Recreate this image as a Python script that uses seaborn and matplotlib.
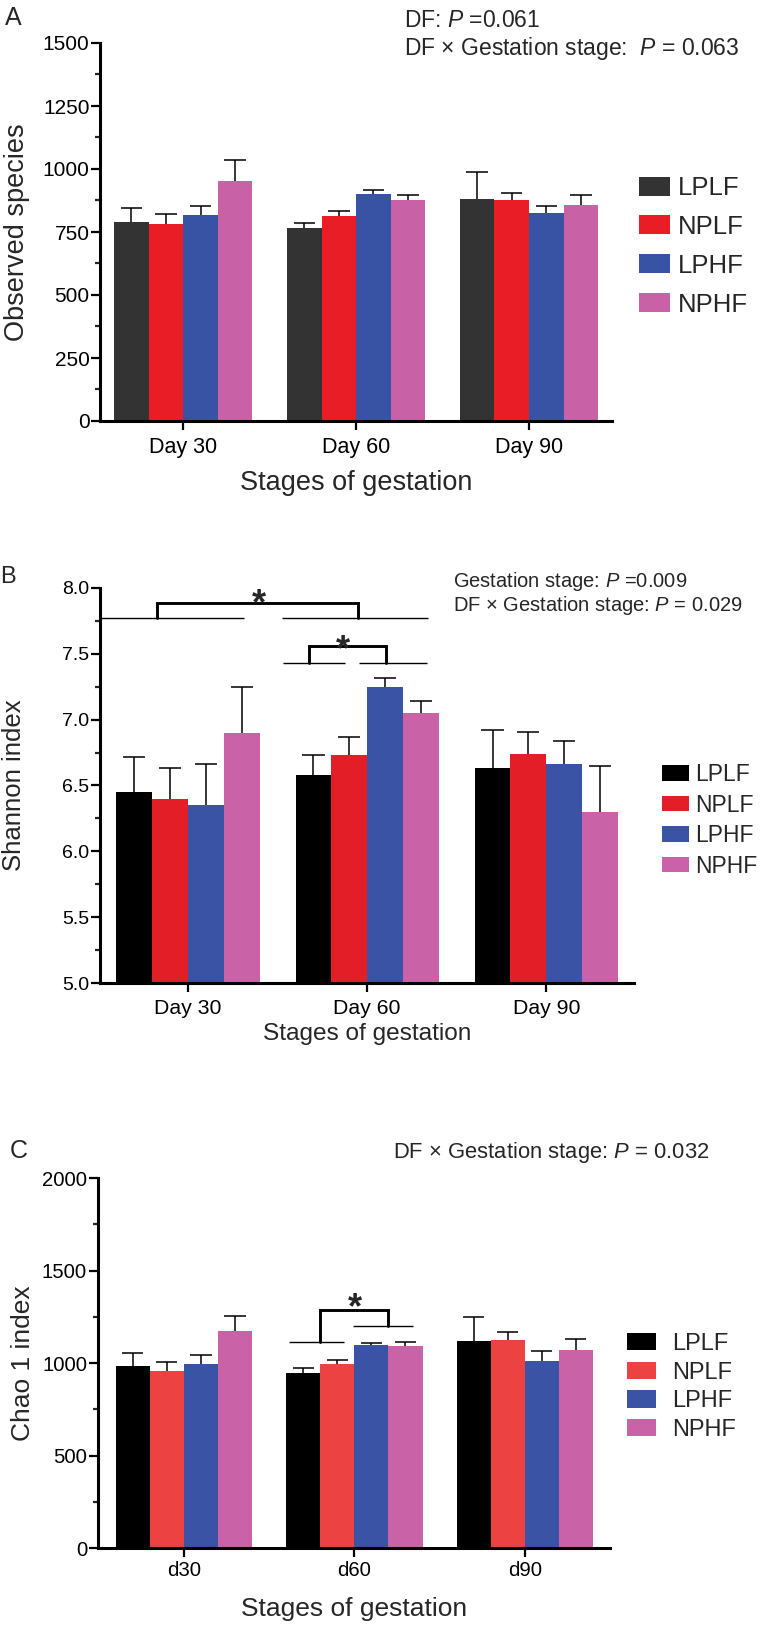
import numpy as np
import pandas as pd
import matplotlib
matplotlib.use("Agg")
import matplotlib.pyplot as plt
from matplotlib.ticker import MultipleLocator, FormatStrFormatter
from matplotlib.patches import Patch
import seaborn as sns

# ---------------- data ----------------
groups = ["LPLF", "NPLF", "LPHF", "NPHF"]
stages_A = ["Day 30", "Day 60", "Day 90"]
stages_B = ["Day 30", "Day 60", "Day 90"]
stages_C = ["d30", "d60", "d90"]

# Panel A: Observed species (mean, upper error end)
obs_mean = {"LPLF": [791, 766, 881], "NPLF": [783, 814, 877],
            "LPHF": [818, 900, 825], "NPHF": [953, 878, 856]}
obs_top = {"LPLF": [846, 787, 987], "NPLF": [822, 833, 906],
           "LPHF": [853, 916, 853], "NPHF": [1037, 896, 896]}

# Panel B: Shannon index
sha_mean = {"LPLF": [6.45, 6.58, 6.63], "NPLF": [6.40, 6.73, 6.74],
            "LPHF": [6.35, 7.25, 6.66], "NPHF": [6.90, 7.05, 6.30]}
sha_top = {"LPLF": [6.72, 6.73, 6.92], "NPLF": [6.63, 6.87, 6.91],
           "LPHF": [6.66, 7.32, 6.84], "NPHF": [7.25, 7.14, 6.65]}

# Panel C: Chao 1 index
chao_mean = {"LPLF": [982, 948, 1119], "NPLF": [959, 995, 1124],
             "LPHF": [995, 1097, 1013], "NPHF": [1175, 1092, 1070]}
chao_top = {"LPLF": [1052, 971, 1247], "NPLF": [1007, 1018, 1168],
            "LPHF": [1043, 1110, 1063], "NPHF": [1256, 1114, 1128]}

colors_A = ["#333333", "#E91D25", "#3953A4", "#C961A6"]
colors_B = ["#000000", "#E41E26", "#3A53A4", "#CA62A7"]
colors_C = ["#000000", "#EC4242", "#3A53A4", "#CA62A7"]

# significance annotations (data coords): thin spans, brackets, stars
B_spans = [(-0.49, 0.313, 7.772), (0.525, 1.341, 7.772),
           (0.531, 0.877, 7.433), (0.953, 1.335, 7.433)]
B_brackets = [(-0.173, 7.772, 0.947, 7.772, 7.886),
              (0.676, 7.433, 1.106, 7.433, 7.56)]
B_stars = [(0.394, 7.805), (0.866, 7.452)]

C_spans = [(0.995, 1.347, 1200), (0.616, 0.938, 1114)]
C_brackets = [(0.798, 1114, 1.197, 1200, 1286)]
C_stars = [(1.003, 1242)]

# ---------------- style ----------------
sns.set_theme(style="ticks")
plt.rcParams["font.family"] = ["Liberation Sans", "DejaVu Sans"]
plt.rcParams["mathtext.fontset"] = "custom"
plt.rcParams["mathtext.rm"] = "Liberation Sans"
plt.rcParams["mathtext.it"] = "Liberation Sans:italic"

W, H = 764, 1626
fig = plt.figure(figsize=(W / 100, H / 100), dpi=100)


def make_df(stages, means):
    rows = []
    for g in groups:
        for s, v in zip(stages, means[g]):
            rows.append({"stage": s, "group": g, "value": v})
    return pd.DataFrame(rows)


def draw_panel(ax, stages, means, tops, colors, xlim, ylim, major, minor,
               fmt, ytick_fs, xtick_fs, xtick_pad):
    df = make_df(stages, means)
    sns.barplot(data=df, x="stage", y="value", hue="group", order=stages,
                hue_order=groups, palette=colors, errorbar=None, width=0.8,
                saturation=1, linewidth=0, edgecolor="none", ax=ax)
    for g, cont in zip(groups, ax.containers):
        for b, t in zip(cont, tops[g]):
            xc = b.get_x() + b.get_width() / 2
            h = b.get_height()
            cw = b.get_width() * 0.62
            ax.vlines(xc, h, t, color="black", lw=1.1, zorder=1)
            ax.hlines(t, xc - cw / 2, xc + cw / 2, color="black", lw=1.1,
                      zorder=1)
    ax.set_xlim(*xlim)
    ax.set_ylim(*ylim)
    ax.yaxis.set_major_locator(MultipleLocator(major))
    ax.yaxis.set_minor_locator(MultipleLocator(minor))
    if fmt:
        ax.yaxis.set_major_formatter(FormatStrFormatter(fmt))
    for side in ["top", "right"]:
        ax.spines[side].set_visible(False)
    for side in ["left", "bottom"]:
        ax.spines[side].set_linewidth(2.2)
        ax.spines[side].set_color("black")
    ax.tick_params(axis="y", which="major", length=6.5, width=1.6, pad=1,
                   labelsize=ytick_fs, colors="black")
    ax.tick_params(axis="y", which="minor", length=3.5, width=1.6)
    ax.tick_params(axis="x", which="major", length=6.5, width=1.6,
                   pad=xtick_pad, labelsize=xtick_fs, colors="black")
    ax.set_facecolor("white")
    leg = ax.get_legend()
    if leg is not None:
        leg.remove()


def add_legend(ax, colors, x_px, top_px, fs, hl, hh, ls, htp):
    handles = [Patch(facecolor=c, edgecolor="none") for c in colors]
    ax.legend(handles, groups, loc="upper left",
              bbox_to_anchor=(x_px / W, 1 - top_px / H),
              bbox_transform=fig.transFigure, frameon=False, fontsize=fs,
              handlelength=hl, handleheight=hh, labelspacing=ls,
              handletextpad=htp, borderpad=0, borderaxespad=0)


# ---------------- Panel A ----------------
axA = fig.add_axes([100 / W, 1 - 421 / H, 512 / W, 378 / H])
draw_panel(axA, stages_A, obs_mean, obs_top, colors_A, (-0.482, 2.48),
           (0, 1500), 250, 125, None, 15, 15.5, 5)
axA.set_xlabel("Stages of gestation", fontsize=19.5)
axA.xaxis.set_label_coords(0.5, -0.13)
axA.set_ylabel("Observed species", fontsize=19.5)
axA.yaxis.set_label_coords(-0.137, 0.5)
add_legend(axA, colors_A, 639, 176, 18.5, 1.2, 0.76, 0.58, 0.3)
fig.text(5 / W, 1 - 25 / H, "A", fontsize=18, va="baseline", ha="left")
fig.text(404 / W, 1 - 27 / H, r"DF: $\mathit{P}$ =0.061", fontsize=16.5,
         va="baseline", ha="left")
fig.text(404 / W, 1 - 55 / H, r"DF × Gestation stage:  $\mathit{P}$ = 0.063",
         fontsize=16.5, va="baseline", ha="left")

# ---------------- Panel B ----------------
axB = fig.add_axes([100 / W, 1 - 983 / H, 534 / W, 395 / H])
draw_panel(axB, stages_B, sha_mean, sha_top, colors_B, (-0.492, 2.49),
           (5.0, 8.0), 0.5, 0.25, "%.1f", 14, 15.3, 5)
axB.set_xlabel("Stages of gestation", fontsize=17.6)
axB.xaxis.set_label_coords(0.5, -0.101)
axB.set_ylabel("Shannon index", fontsize=18.5)
axB.yaxis.set_label_coords(-0.139, 0.5)
add_legend(axB, colors_B, 662, 763, 16.5, 1.17, 0.65, 0.33, 0.26)
for x0, x1, y in B_spans:
    axB.plot([x0, x1], [y, y], color="black", lw=1.0, clip_on=False,
             solid_capstyle="butt")
for xl, yl, xr, yr, yt in B_brackets:
    axB.plot([xl, xl, xr, xr], [yl, yt, yt, yr], color="black", lw=2.1,
             clip_on=False, solid_joinstyle="miter")
for x, y in B_stars:
    axB.text(x, y, "*", fontsize=26, fontweight="bold", ha="center",
             va="baseline")
fig.text(0 / W, 1 - 583 / H, "B", fontsize=17, va="baseline", ha="left")
fig.text(453 / W, 1 - 587 / H, r"Gestation stage: $\mathit{P}$ =0.009",
         fontsize=14.5, va="baseline", ha="left")
fig.text(453 / W, 1 - 611 / H, r"DF × Gestation stage: $\mathit{P}$ = 0.029",
         fontsize=14.5, va="baseline", ha="left")

# ---------------- Panel C ----------------
axC = fig.add_axes([97.5 / W, 1 - 1548 / H, 512.5 / W, 370 / H])
draw_panel(axC, stages_C, chao_mean, chao_top, colors_C, (-0.507, 2.5),
           (0, 2000), 500, 250, None, 14.6, 14.7, 2.5)
axC.set_xlabel("Stages of gestation", fontsize=19)
axC.xaxis.set_label_coords(0.5, -0.132)
axC.set_ylabel("Chao 1 index", fontsize=19)
axC.yaxis.set_label_coords(-0.122, 0.5)
add_legend(axC, colors_C, 627, 1333, 17, 1.23, 0.76, 0.28, 0.68)
for x0, x1, y in C_spans:
    axC.plot([x0, x1], [y, y], color="black", lw=1.0, clip_on=False,
             solid_capstyle="butt")
for xl, yl, xr, yr, yt in C_brackets:
    axC.plot([xl, xl, xr, xr], [yl, yt, yt, yr], color="black", lw=2.1,
             clip_on=False, solid_joinstyle="miter")
for x, y in C_stars:
    axC.text(x, y, "*", fontsize=26, fontweight="bold", ha="center",
             va="baseline")
fig.text(10 / W, 1 - 1158 / H, "C", fontsize=18, va="baseline", ha="left")
fig.text(393 / W, 1 - 1158 / H, r"DF × Gestation stage: $\mathit{P}$ = 0.032",
         fontsize=15.8, va="baseline", ha="left")

fig.savefig("out.png", dpi=100, facecolor="white")
